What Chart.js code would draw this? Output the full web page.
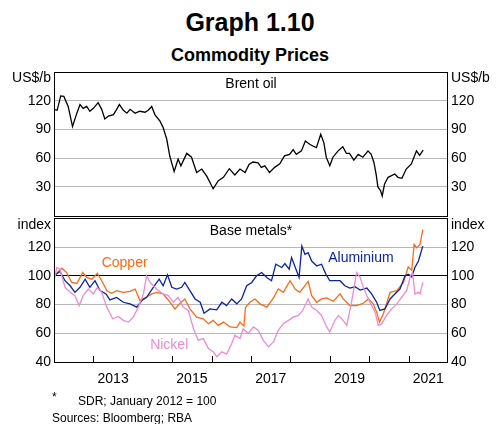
<!DOCTYPE html>
<html>
<head>
<meta charset="utf-8">
<script src="https://cdn.jsdelivr.net/npm/chart.js@4.4.1/dist/chart.umd.min.js"></script>
<style>
  html, body { margin: 0; padding: 0; background: #fff; }
  body { width: 497px; height: 424px; position: relative; overflow: hidden;
         font-family: "Liberation Sans", Arial, Helvetica, sans-serif; color: #000; }
  .t { position: absolute; white-space: nowrap; line-height: 1; }
  #c1 { position: absolute; left: 0; top: 52px; }
  #c2 { position: absolute; left: 0; top: 207px; }
</style>
</head>
<body>
<div class="t" style="left:0;width:500px;text-align:center;top:10px;font-size:25px;font-weight:bold;">Graph 1.10</div>
<div class="t" style="left:0;width:500px;text-align:center;top:46px;font-size:18px;font-weight:bold;">Commodity Prices</div>
<canvas id="c1" width="497" height="175"></canvas>
<canvas id="c2" width="497" height="186"></canvas>
<div class="t" style="left:52px;top:391px;font-size:12px;">*</div>
<div class="t" style="left:78px;top:395px;font-size:12px;">SDR; January 2012 = 100</div>
<div class="t" style="left:52px;top:412px;font-size:12px;">Sources: Bloomberg; RBA</div>
<script>
// ---------- DATA (decimal years) ----------
const brentDates = [2012.00,2012.08,2012.17,2012.25,2012.36,2012.47,2012.58,2012.66,2012.74,2012.83,2012.91,2013.00,2013.12,2013.21,2013.29,2013.38,2013.51,2013.59,2013.66,2013.76,2013.85,2013.93,2014.06,2014.18,2014.31,2014.39,2014.48,2014.56,2014.69,2014.77,2014.86,2014.94,2015.05,2015.15,2015.22,2015.37,2015.49,2015.62,2015.75,2015.88,2016.04,2016.17,2016.30,2016.45,2016.59,2016.72,2016.85,2016.95,2017.05,2017.18,2017.26,2017.35,2017.47,2017.60,2017.73,2017.85,2017.98,2018.07,2018.15,2018.28,2018.38,2018.49,2018.57,2018.66,2018.77,2018.85,2018.91,2019.00,2019.08,2019.21,2019.33,2019.42,2019.50,2019.61,2019.72,2019.84,2019.97,2020.05,2020.12,2020.18,2020.22,2020.29,2020.33,2020.39,2020.48,2020.65,2020.73,2020.83,2020.94,2021.07,2021.20,2021.28,2021.37];
const brentValues = [111,110,125,124.5,114,93,107,116,112,114,109,112,118,111,101,104,105.5,111,116,110,107,111,107,109,108,110,114,105.5,98.6,92,80,62,46,59,52,65,61,45,48.6,41,28,36.5,40,49,42.4,48.6,45,53.5,56,55,50.4,52,45,50.4,54,62.4,64,69,64,67.6,78,74.5,72.7,71,85,76,61,52,61,67.6,72,65,65,58,64,61,67.6,64,55.5,42,30,26,20.5,33,40,43.5,40,39,48.6,54,67.6,63,68.3];

const copperDates = [2012.00,2012.20,2012.32,2012.45,2012.58,2012.73,2012.83,2012.96,2013.10,2013.21,2013.34,2013.46,2013.59,2013.76,2013.93,2014.06,2014.18,2014.31,2014.48,2014.61,2014.77,2014.90,2015.07,2015.20,2015.32,2015.45,2015.62,2015.79,2015.92,2016.04,2016.17,2016.30,2016.47,2016.64,2016.72,2016.82,2016.86,2016.97,2017.10,2017.23,2017.40,2017.57,2017.69,2017.82,2017.99,2018.12,2018.24,2018.45,2018.54,2018.67,2018.79,2018.92,2019.09,2019.26,2019.34,2019.51,2019.68,2019.85,2019.98,2020.10,2020.19,2020.26,2020.36,2020.53,2020.70,2020.87,2020.99,2021.08,2021.14,2021.21,2021.29,2021.36];
const copperValues = [100,105.3,102.3,95.4,94.7,102.3,98.9,97.7,101.8,96.6,89.7,87.8,89.7,88.5,89.2,90.8,82.8,84.6,87.4,88.5,87.4,83.2,77,80.9,83.9,77,71.2,70.1,66.7,69,65.5,67.8,64.4,63.9,67.8,65,78,81.6,83.9,80.5,78.2,84.6,90.8,88.5,96.6,90.8,88.5,96.1,86.2,81.6,83.9,84.6,82.3,87.4,83.9,79.3,79.3,80.9,83.9,80.5,74.7,67.8,73.6,88.5,89.7,95.4,106.2,103.9,121.9,119.5,121.9,132.2];

const aluminiumDates = [2012.00,2012.15,2012.28,2012.41,2012.53,2012.66,2012.79,2012.91,2013.04,2013.17,2013.32,2013.42,2013.59,2013.76,2013.93,2014.10,2014.23,2014.35,2014.52,2014.67,2014.77,2014.88,2014.99,2015.11,2015.24,2015.32,2015.45,2015.58,2015.71,2015.81,2015.96,2016.13,2016.26,2016.38,2016.51,2016.64,2016.76,2016.81,2016.89,2017.02,2017.14,2017.27,2017.40,2017.52,2017.63,2017.78,2017.86,2017.97,2018.03,2018.11,2018.22,2018.29,2018.37,2018.45,2018.54,2018.67,2018.79,2018.90,2019.00,2019.13,2019.26,2019.38,2019.51,2019.64,2019.77,2019.94,2020.06,2020.19,2020.27,2020.40,2020.53,2020.65,2020.78,2020.91,2020.99,2021.08,2021.16,2021.25,2021.36];
const aluminiumValues = [100,103,96.6,93.1,88.5,92,97.7,92,96.6,89.7,87.4,83.2,85,81.6,80.5,78.2,82.8,85,92,97.7,93.1,100.7,92,90.8,92,95.4,89.7,83.9,81.6,74,77,76.3,81.6,79.3,83.9,80.5,83.9,87.4,93.1,95.4,100,102.3,98.9,96.6,108.1,105.8,108.5,104.6,112.7,106.9,98.9,120.7,115,116.1,110.3,106.9,108.1,101.2,96.6,96.6,96.6,93.1,91.5,92.4,90.1,91.5,87.4,81.6,75.9,77,83.9,87.4,90.8,100,101.1,99.3,105.8,110.3,120.7];

const nickelDates = [2012.00,2012.07,2012.15,2012.28,2012.41,2012.53,2012.64,2012.74,2012.87,2013.00,2013.10,2013.21,2013.34,2013.49,2013.63,2013.76,2013.89,2014.01,2014.14,2014.27,2014.35,2014.44,2014.52,2014.65,2014.77,2014.90,2015.03,2015.15,2015.28,2015.41,2015.54,2015.66,2015.79,2015.92,2016.04,2016.13,2016.26,2016.38,2016.51,2016.59,2016.72,2016.80,2016.93,2017.06,2017.18,2017.31,2017.44,2017.57,2017.69,2017.82,2017.95,2018.07,2018.20,2018.31,2018.45,2018.54,2018.67,2018.79,2018.92,2019.00,2019.13,2019.22,2019.34,2019.43,2019.55,2019.68,2019.77,2019.85,2019.94,2020.06,2020.15,2020.23,2020.32,2020.44,2020.57,2020.70,2020.82,2020.95,2021.05,2021.10,2021.16,2021.25,2021.29,2021.36];
const nickelValues = [96,105.8,104.6,92,88.5,86.2,79.3,86.2,90.8,87.4,92,88.5,78.2,70.1,71.7,69,67.8,71.2,78.2,87.4,100,95.4,93.1,89.7,87.4,86.2,81.6,85,78.2,75.9,63.2,55.2,56.3,49.4,47.1,43.7,47.1,45.5,52.9,58.6,56.3,63.2,59.8,64.4,62.1,55.2,50.6,54,62.1,66.7,69,71.2,72.4,75.9,83.9,78.2,75.9,72.4,64.4,60.9,69,72.4,69,65.5,81.6,102.3,98.9,92,86.2,79.3,74.7,65.5,66.7,72.4,77,80.5,85,89.7,100,102.3,87.4,88.5,87.4,95.4];

const topTicks = [30, 60, 90, 120];
const bottomTicks = [40, 60, 80, 100, 120];
const yearLabels = [2013, 2015, 2017, 2019, 2021];
const yearTicks = [2013, 2014, 2015, 2016, 2017, 2018, 2019, 2020, 2021];

// ---------- helpers ----------
const FONT = '"Liberation Sans", Arial, Helvetica, sans-serif';
const pts = (xs, ys) => xs.map((x, i) => ({ x: x, y: ys[i] }));
const COPPER = '#ff6a13', ALU = '#0a24a8', NICKEL = '#f08ad6';
const GRID = '#b8b8b8';

function yAxis(pos, min, max, ticks, width, gridOn, gridColor) {
  return {
    type: 'linear', position: pos, min: min, max: max,
    afterBuildTicks: s => { s.ticks = ticks.map(v => ({ value: v })); },
    afterFit: s => { s.width = width; },
    ticks: { color: '#000', font: { family: FONT, size: 14 }, padding: 3, callback: v => String(v) },
    grid: gridOn ? { color: gridColor, lineWidth: 1, drawTicks: false } : { display: false, drawTicks: false },
    border: { display: false }
  };
}

const framePlugin = {
  id: 'frame',
  afterDraw(chart, args, opts) {
    const { ctx, chartArea: a } = chart;
    ctx.save();
    ctx.strokeStyle = '#000';
    ctx.lineWidth = 1;
    ctx.strokeRect(Math.round(a.left) + 0.5, Math.round(a.top) + 0.5, Math.round(a.right - a.left) - 1, Math.round(a.bottom - a.top));
    ctx.fillStyle = '#000';
    ctx.font = '14px ' + FONT;
    ctx.textBaseline = 'middle';
    ctx.textAlign = 'center';
    ctx.fillText(opts.panel, (a.left + a.right) / 2, a.top + opts.panelDy);
    ctx.textAlign = 'right';
    ctx.fillText(opts.unit, a.left - 3, a.top + opts.unitDy);
    ctx.textAlign = 'left';
    ctx.fillText(opts.unit, a.right + 3, a.top + opts.unitDy);
    (opts.notes || []).forEach(n => {
      ctx.fillStyle = n.color;
      ctx.textAlign = 'left';
      ctx.fillText(n.text, chart.scales.x.getPixelForValue(n.x), chart.scales.y.getPixelForValue(n.y));
    });
    if (opts.yearTicks) {
      ctx.strokeStyle = '#000';
      ctx.lineWidth = 1;
      opts.yearTicks.forEach(yr => {
        const px = Math.round(chart.scales.x.getPixelForValue(yr)) + 0.5;
        ctx.beginPath();
        ctx.moveTo(px, a.bottom);
        ctx.lineTo(px, a.bottom - 6);
        ctx.stroke();
      });
    }
    ctx.restore();
  }
};

const lineDs = (label, data, color) => ({
  label: label, data: data, borderColor: color, borderWidth: 1.3,
  pointRadius: 0, tension: 0, fill: false
});

// ---------- top panel: Brent oil ----------
new Chart(document.getElementById('c1'), {
  type: 'line',
  data: { datasets: [lineDs('Brent oil', pts(brentDates, brentValues), '#000')] },
  options: {
    responsive: false, animation: false,
    layout: { padding: { top: 20, bottom: 10, left: 0, right: 0 } },
    plugins: {
      legend: { display: false }, tooltip: { enabled: false },
      frame: { panel: 'Brent oil', panelDy: 12, unit: 'US$/b', unitDy: 6 }
    },
    scales: {
      x: { type: 'linear', min: 2012, max: 2022, display: false },
      y: yAxis('left', 0, 150, topTicks, 54, true, GRID),
      y2: yAxis('right', 0, 150, topTicks, 49, false)
    }
  },
  plugins: [framePlugin]
});

// ---------- bottom panel: Base metals ----------
new Chart(document.getElementById('c2'), {
  type: 'line',
  data: {
    datasets: [
      lineDs('Nickel', pts(nickelDates, nickelValues), NICKEL),
      lineDs('Aluminium', pts(aluminiumDates, aluminiumValues), ALU),
      lineDs('Copper', pts(copperDates, copperValues), COPPER)
    ]
  },
  options: {
    responsive: false, animation: false,
    layout: { padding: { top: 10, bottom: 5, left: 0, right: 0 } },
    plugins: {
      legend: { display: false }, tooltip: { enabled: false },
      frame: {
        panel: 'Base metals*', panelDy: 13, unit: 'index', unitDy: 7,
        notes: [
          { text: 'Copper', x: 2013.21, y: 108.6, color: COPPER },
          { text: 'Aluminium', x: 2018.96, y: 112.2, color: ALU },
          { text: 'Nickel', x: 2014.44, y: 51.7, color: NICKEL }
        ],
        yearTicks: yearTicks
      }
    },
    scales: {
      x: {
        type: 'linear', min: 2012, max: 2022,
        afterBuildTicks: s => { s.ticks = yearLabels.map(v => ({ value: v + 0.5 })); },
        afterFit: s => { s.height = 26; },
        ticks: { color: '#000', font: { family: FONT, size: 14 }, padding: 9, maxRotation: 0, callback: v => String(Math.floor(v)) },
        grid: { display: false, drawTicks: false },
        border: { display: false }
      },
      y: Object.assign(yAxis('left', 40, 140, bottomTicks, 54, true, GRID), {
        grid: {
          drawTicks: false, lineWidth: 1,
          color: c => c.tick && c.tick.value === 100 ? '#000' : (c.tick && c.tick.value === 40 ? 'rgba(0,0,0,0)' : GRID)
        }
      }),
      y2: yAxis('right', 40, 140, bottomTicks, 49, false)
    }
  },
  plugins: [framePlugin]
});
</script>
</body>
</html>
